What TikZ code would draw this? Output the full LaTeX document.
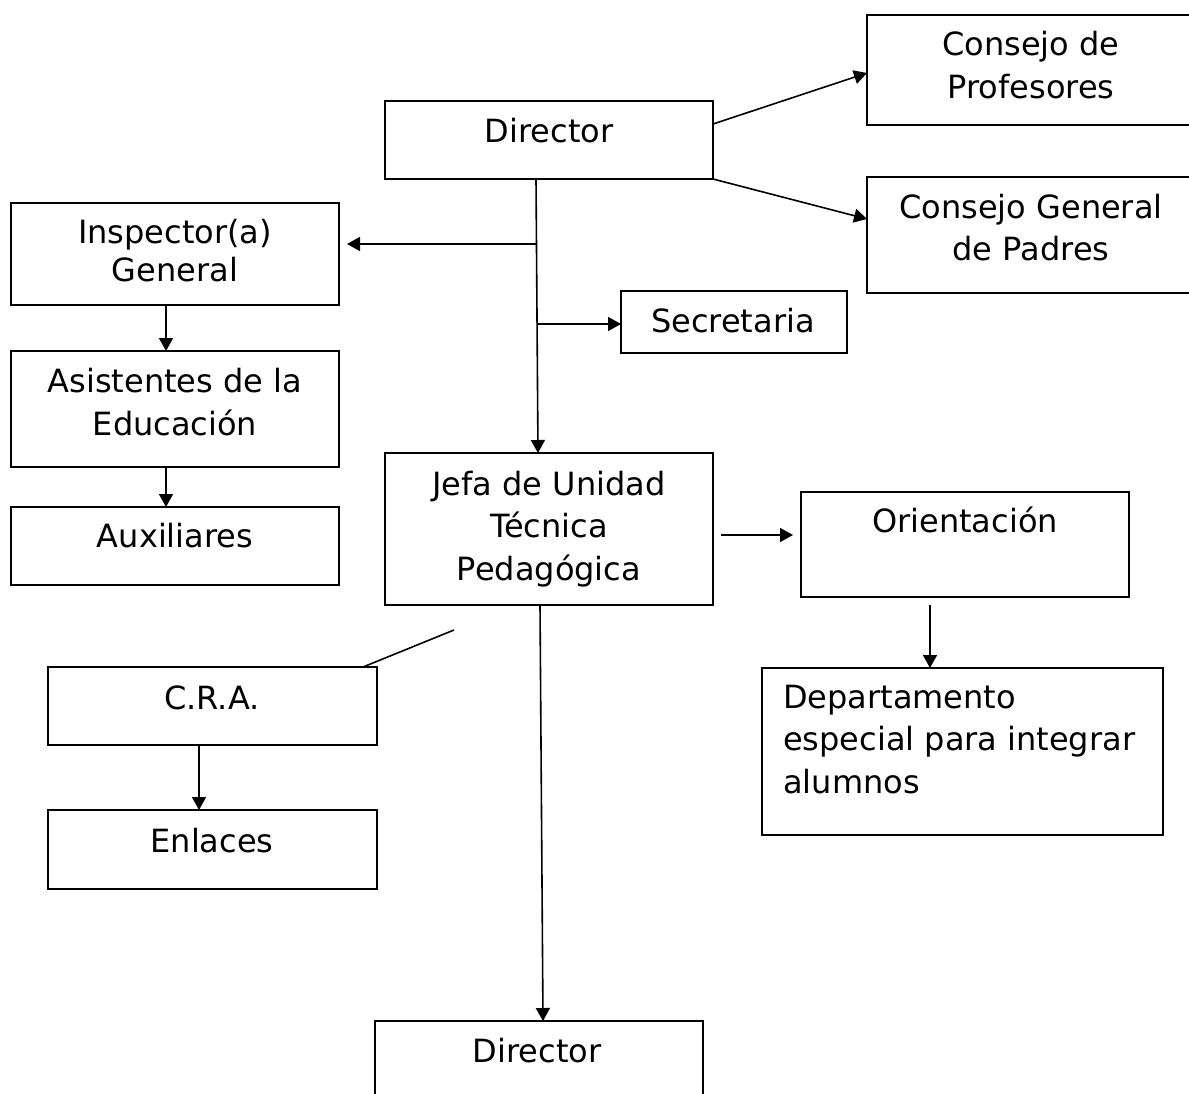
\documentclass[tikz,border=0pt]{standalone}
\usepackage{fontspec}
\setmainfont{DejaVu Sans}
\usetikzlibrary{arrows.meta}
\tikzset{
  box/.style={draw, line width=1.7pt, rectangle, inner sep=0pt, outer sep=0pt, anchor=north west},
  txt/.style={anchor=base, inner sep=0pt, font=\fontsize{32pt}{42pt}\selectfont},
  ln/.style={line width=1.6pt},
  arr/.style={line width=1.6pt, -{Triangle[length=13pt,width=14pt]}}
}
\begin{document}
\begin{tikzpicture}[x=1pt,y=-1pt]
\useasboundingbox (0,0) rectangle (1189,1093);
% boxes
\node[box, minimum width=328pt, minimum height=78pt]  (dir)  at (385,101) {};
\node[box, minimum width=340pt, minimum height=110pt] (cp)   at (867,15) {};
\node[box, minimum width=340pt, minimum height=116pt] (cgp)  at (867,177) {};
\node[box, minimum width=328pt, minimum height=102pt] (insp) at (11,203) {};
\node[box, minimum width=328pt, minimum height=116pt] (asis) at (11,351) {};
\node[box, minimum width=328pt, minimum height=78pt]  (aux)  at (11,507) {};
\node[box, minimum width=226pt, minimum height=62pt]  (sec)  at (621,291) {};
\node[box, minimum width=328pt, minimum height=152pt] (jefa) at (385,453) {};
\node[box, minimum width=328pt, minimum height=105pt] (ori)  at (801,492) {};
\node[box, minimum width=401pt, minimum height=167pt] (dept) at (762,668) {};
\node[box, minimum width=329pt, minimum height=78pt]  (cra)  at (48,667) {};
\node[box, minimum width=329pt, minimum height=79pt]  (enl)  at (48,810) {};
\node[box, minimum width=328pt, minimum height=90pt]  (dir2) at (375,1021) {};
% texts
\node[txt] (tdir) at (549,142) {Director};
\node[txt] (tcp1) at (1031,55) {Consejo de};
\node[txt] (tcp2) at (1031,98) {Profesores};
\node[txt] (tcg1) at (1031,218) {Consejo General};
\node[txt] (tcg2) at (1031,260) {de Padres};
\node[txt] (tin1) at (175,243) {Inspector(a)};
\node[txt] (tin2) at (175,281) {General};
\node[txt] (tas1) at (175,392) {Asistentes de la};
\node[txt] (tas2) at (175,435) {Educación};
\node[txt] (taux) at (175,547) {Auxiliares};
\node[txt] (tsec) at (733,332) {Secretaria};
\node[txt] (tje1) at (549,495) {Jefa de Unidad};
\node[txt] (tje2) at (549,537) {Técnica};
\node[txt] (tje3) at (549,580) {Pedagógica};
\node[txt] (tori) at (965,532) {Orientación};
\node[txt, anchor=base west] (tde1) at (783,708) {Departamento};
\node[txt, anchor=base west] (tde2) at (783,750) {especial para integrar};
\node[txt, anchor=base west] (tde3) at (783,793) {alumnos};
\node[txt] (tcra) at (212,709) {C.R.A.};
\node[txt] (tenl) at (212,852) {Enlaces};
\node[txt] (tdr2) at (537,1062) {Director};
% connectors
\draw[arr] ([yshift=-23pt]dir.north east) -- ([yshift=-3pt]cp.west);
\draw[arr] (dir.south east) -- ([yshift=16pt]cgp.west);
\draw[arr] ([xshift=-13pt]dir.south) -- ([xshift=-11pt]jefa.north);
\coordinate (b1) at (537,244);
\coordinate (b2) at (538,324);
\draw[arr] (b1) -- ([xshift=8pt]insp.east |- b1);
\draw[arr] (b2) -- (sec.west |- b2);
\draw[arr] ([xshift=-9pt]insp.south) -- ([xshift=-9pt]asis.north);
\draw[arr] ([xshift=-9pt]asis.south) -- ([xshift=-9pt]aux.north);
\draw[arr] ([xshift=8pt,yshift=-6pt]jefa.east) -- ([xshift=-8pt,yshift=9.5pt]ori.west);
\draw[arr] ([xshift=-35pt,yshift=-8pt]ori.south) -- ([xshift=-32.5pt]dept.north);
\coordinate (s1) at (454,630);
\draw[ln] (s1) -- ([xshift=-14pt]cra.north east);
\draw[arr] ([xshift=-13.5pt]cra.south) -- ([xshift=-13.5pt]enl.north);
\draw[arr] ([xshift=-9pt]jefa.south) -- ([xshift=4pt]dir2.north);
\end{tikzpicture}
\end{document}
